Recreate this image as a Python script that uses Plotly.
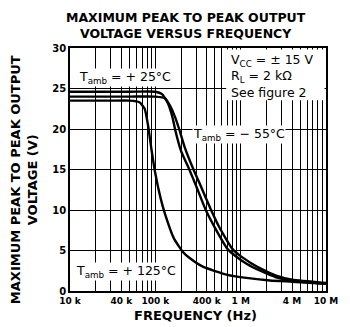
import plotly.graph_objects as go

# ---- data ----
freq_25 = [1e4, 5e4, 1e5, 1.2e5, 1.4e5, 1.6e5, 1.7e5, 2e5, 2.5e5, 3e5, 3.9e5, 5e5, 7e5, 9e5, 1.2e6, 1.7e6, 2.6e6, 4e6, 1e7]
vpp_25 = [24.6, 24.6, 24.6, 24.3, 23.2, 21.3, 20.0, 17.3, 15.0, 13.0, 10.0, 7.8, 5.2, 4.2, 3.3, 2.5, 1.7, 1.3, 0.9]

freq_m55 = [1e4, 5e4, 1e5, 1.3e5, 1.5e5, 1.7e5, 1.9e5, 2.2e5, 2.8e5, 3.3e5, 4.5e5, 5.6e5, 8e5, 1e6, 1.3e6, 1.7e6, 2.6e6, 4e6, 1e7]
vpp_m55 = [24.0, 24.0, 24.0, 23.8, 22.8, 21.5, 20.0, 17.8, 15.0, 13.3, 10.0, 7.9, 5.2, 4.3, 3.5, 2.8, 1.9, 1.4, 1.0]

freq_125 = [1e4, 3e4, 5e4, 6.5e4, 7.5e4, 8.2e4, 9e4, 1e5, 1.15e5, 1.3e5, 1.65e5, 2.13e5, 2.5e5, 3.6e5, 7e5, 1.1e6, 2.2e6, 4e6, 1e7]
vpp_125 = [23.5, 23.5, 23.5, 23.3, 22.5, 20.5, 17.5, 14.5, 11.5, 9.5, 6.5, 4.75, 4.1, 3.0, 2.0, 1.65, 1.3, 1.15, 0.9]

grid_freqs = [m * 10 ** d for d in (4, 5, 6) for m in range(1, 10)] + [1e7]
x_tickvals = [1e4, 4e4, 1e5, 4e5, 1e6, 4e6, 1e7]
x_ticktext = ["10 k", "40 k", "100 k", "400 k", "1 M", "4 M", "10 M"]
y_ticks = [0, 5, 10, 15, 20, 25, 30]

fig = go.Figure()
for fx, vy in ((freq_25, vpp_25), (freq_m55, vpp_m55), (freq_125, vpp_125)):
    fig.add_trace(go.Scatter(x=fx, y=vy, mode="lines",
                             line=dict(color="black", width=2.4, shape="spline", smoothing=0.5),
                             hoverinfo="skip", showlegend=False))

FONT = "DejaVu Sans"
bold = dict(family=FONT, size=13, color="black", weight="bold")
fig.update_layout(
    width=342, height=319, autosize=False,
    margin=dict(l=62, r=16, t=40, b=36),
    paper_bgcolor="white", plot_bgcolor="white",
    showlegend=False,
)
fig.update_xaxes(type="log", range=[4, 7],
                 tickvals=x_tickvals, ticktext=x_ticktext,
                 showgrid=True, gridcolor="black", gridwidth=1.2,
                 minor=dict(tickvals=grid_freqs, showgrid=True, gridcolor="black", gridwidth=1.2,
                            ticks="inside", ticklen=8, tickcolor="black", tickwidth=1.2),
                 showline=True, linecolor="black", linewidth=1.6, mirror=True,
                 ticks="inside", ticklen=8, tickcolor="black", tickwidth=1.2,
                 tickfont=dict(family=FONT, size=9, color="black", weight="bold"),
                 tickangle=0, zeroline=False)
fig.update_yaxes(range=[0, 30], tickvals=y_ticks,
                 showgrid=True, gridcolor="black", gridwidth=1.2,
                 showline=True, linecolor="black", linewidth=1.6, mirror=True,
                 ticks="", zeroline=False,
                 tickfont=dict(family=FONT, size=10, color="black", weight="bold"))

# titles as annotations
fig.add_annotation(xref="paper", yref="paper", x=0.455, y=1.094, xanchor="center", yanchor="middle",
                   text="MAXIMUM PEAK TO PEAK OUTPUT<br>VOLTAGE VERSUS FREQUENCY",
                   showarrow=False, font=dict(family=FONT, size=12.5, color="black", weight="bold"))
fig.add_annotation(xref="paper", yref="paper", x=0.49, y=-0.062, xanchor="center", yanchor="top",
                   text="FREQUENCY (Hz)", showarrow=False, font=bold)
fig.add_annotation(xref="paper", yref="paper", x=-0.18, y=0.46, xanchor="center", yanchor="middle",
                   text="MAXIMUM PEAK TO PEAK OUTPUT<br>VOLTAGE (V)", textangle=-90,
                   showarrow=False, font=bold)

# white box behind the conditions text
fig.add_shape(type="rect", xref="paper", yref="paper", x0=0.61, x1=0.994, y0=0.785, y1=0.994,
              fillcolor="white", line=dict(width=0), layer="above")

ann_font = dict(family=FONT, size=12.5, color="black")
fig.add_annotation(xref="paper", yref="paper", x=0.03, y=0.88, xanchor="left", yanchor="middle",
                   text="T<sub>amb</sub> = + 25°C", showarrow=False, font=ann_font,
                   bgcolor="white", borderpad=0)
fig.add_annotation(xref="paper", yref="paper", x=0.477, y=0.642, xanchor="left", yanchor="middle",
                   text="T<sub>amb</sub> = − 55°C", showarrow=False, font=ann_font,
                   bgcolor="white", borderpad=0)
fig.add_annotation(xref="paper", yref="paper", x=0.019, y=0.082, xanchor="left", yanchor="middle",
                   text="T<sub>amb</sub> = + 125°C", showarrow=False, font=ann_font,
                   bgcolor="white", borderpad=0)
fig.add_annotation(xref="paper", yref="paper", x=0.62, y=0.99, xanchor="left", yanchor="top",
                   text="V<sub>CC</sub> = ± 15 V<br>R<sub>L</sub> = 2 kΩ<br>See figure 2",
                   align="left", showarrow=False, font=ann_font)

fig.write_html("out.html")
